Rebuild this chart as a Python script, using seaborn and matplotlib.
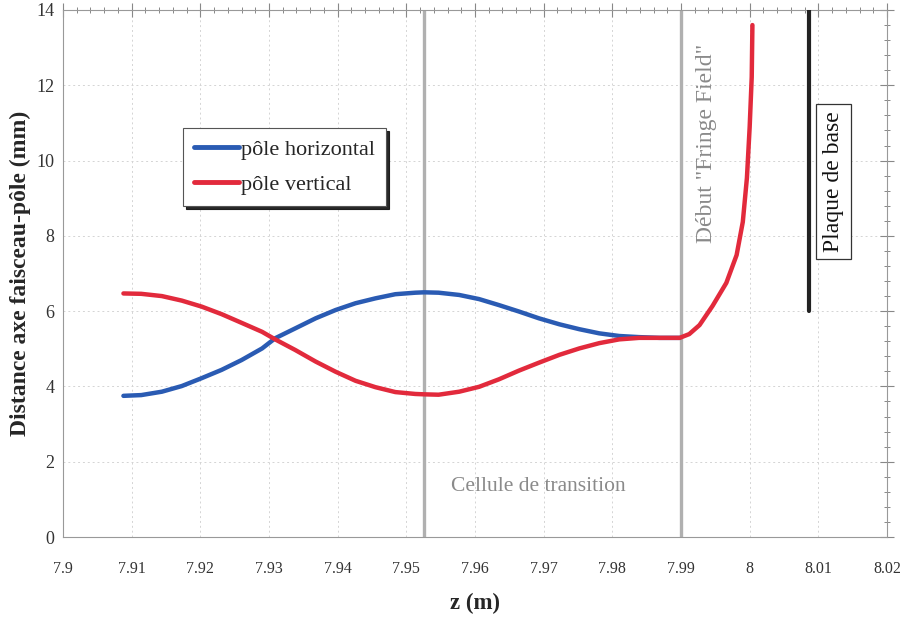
import numpy as np
import pandas as pd
import matplotlib
matplotlib.use("Agg")
import matplotlib.pyplot as plt
from matplotlib.lines import Line2D
from matplotlib.ticker import MultipleLocator
import seaborn as sns

# Beam axis to pole distance along the transition region (z in m, distance in mm)
z_horizontal = [7.9088, 7.9114, 7.9144, 7.9173, 7.9202, 7.9231, 7.9260, 7.9290, 7.9309,
                7.9338, 7.9368, 7.9397, 7.9426, 7.9455, 7.9484, 7.9513, 7.9526, 7.9547,
                7.9577, 7.9606, 7.9635, 7.9664, 7.9693, 7.9723, 7.9752, 7.9781, 7.9810,
                7.9839, 7.9869, 7.9898]
d_horizontal = [3.75, 3.77, 3.86, 4.01, 4.22, 4.44, 4.70, 5.01, 5.28,
                5.54, 5.81, 6.03, 6.21, 6.34, 6.45, 6.49, 6.50, 6.49,
                6.43, 6.32, 6.16, 5.99, 5.81, 5.65, 5.52, 5.41, 5.34,
                5.31, 5.29, 5.29]

z_vertical = [7.9088, 7.9114, 7.9144, 7.9173, 7.9202, 7.9231, 7.9260, 7.9290, 7.9309,
              7.9338, 7.9368, 7.9397, 7.9426, 7.9455, 7.9484, 7.9513, 7.9526, 7.9547,
              7.9577, 7.9606, 7.9635, 7.9664, 7.9693, 7.9723, 7.9752, 7.9781, 7.9810,
              7.9839, 7.9869, 7.9898, 7.9912, 7.9927, 7.9946, 7.9966, 7.9981, 7.9990,
              7.9996, 8.0000, 8.0003, 8.0004]
d_vertical = [6.47, 6.46, 6.40, 6.28, 6.12, 5.92, 5.69, 5.45, 5.25,
              4.97, 4.66, 4.39, 4.15, 3.98, 3.85, 3.80, 3.79, 3.78,
              3.86, 3.99, 4.19, 4.42, 4.63, 4.84, 5.01, 5.15, 5.25,
              5.29, 5.29, 5.29, 5.39, 5.63, 6.14, 6.75, 7.49, 8.37,
              9.54, 10.89, 12.22, 13.60]

series_names = ["pôle horizontal", "pôle vertical"]
series_colors = ["#2a5bb3", "#e22a3c"]

transition_cell_z = 7.9525
fringe_field_z = 7.99
base_plate_z = 8.0087
base_plate_range = [6.0, 14.0]

x_ticks = [7.9, 7.91, 7.92, 7.93, 7.94, 7.95, 7.96, 7.97, 7.98, 7.99, 8.0, 8.01, 8.02]
x_tick_labels = ["7.9", "7.91", "7.92", "7.93", "7.94", "7.95", "7.96", "7.97",
                 "7.98", "7.99", "8", "8.01", "8.02"]
y_ticks = [0, 2, 4, 6, 8, 10, 12, 14]

df = pd.concat([
    pd.DataFrame({"z": z_horizontal, "d": d_horizontal, "pole": series_names[0]}),
    pd.DataFrame({"z": z_vertical, "d": d_vertical, "pole": series_names[1]}),
], ignore_index=True)

sns.set_style("white")
plt.rcParams["font.family"] = ["Liberation Serif", "DejaVu Serif"]

fig = plt.figure(figsize=(9.05, 6.2), dpi=100)
ax = fig.add_axes([63 / 905, 1 - 537 / 620, (887 - 63) / 905, (537 - 10) / 620])

# Reference positions along the beam line
ax.axvline(transition_cell_z, color="#b0b0b0", lw=2.4, zorder=1)
ax.axvline(fringe_field_z, color="#b0b0b0", lw=2.4, zorder=1)
ax.plot([base_plate_z, base_plate_z], base_plate_range, color="#222222", lw=3,
        solid_capstyle="round", zorder=3)

sns.lineplot(data=df, x="z", y="d", hue="pole", palette=series_colors,
             sort=False, estimator=None, lw=3.2, ax=ax, legend=False, zorder=4,
             solid_joinstyle="round", solid_capstyle="round")

ax.set_xlim(7.9, 8.02)
ax.set_ylim(0, 14)
ax.set_xticks(x_ticks)
ax.set_xticklabels(x_tick_labels)
ax.set_yticks(y_ticks)
ax.xaxis.set_minor_locator(MultipleLocator(0.002))
ax.yaxis.set_minor_locator(MultipleLocator(0.4))
ax.tick_params(which="both", direction="inout", top=True, right=True,
               labeltop=False, labelright=False, color="#888888")
ax.tick_params(which="major", length=10, width=0.8)
ax.tick_params(which="minor", length=5, width=0.7)
ax.tick_params(axis="x", labelsize=11.5, pad=12)
ax.tick_params(axis="y", labelsize=13, pad=1)
for lab in ax.get_xticklabels() + ax.get_yticklabels():
    lab.set_color("#333333")
for s in ax.spines.values():
    s.set_color("#999999")
    s.set_linewidth(0.8)
ax.grid(True, which="major", ls=(0, (2, 3)), color="#d4d4d4", lw=0.7)

ax.set_xlabel("z (m)", fontsize=16.5, fontweight="bold", labelpad=12)
ax.set_ylabel("Distance axe faisceau-pôle (mm)", fontsize=17, fontweight="bold", labelpad=4)

ax.text(7.9565, 1.33, "Cellule de transition", fontsize=15.5, color="#8a8a8a",
        va="center", ha="left")
ax.text(7.9937, 10.45, "Début \"Fringe Field\"", fontsize=17, color="#8a8a8a",
        rotation=90, va="center", ha="center")
ax.text(8.0122, 9.45, "Plaque de base", fontsize=17, color="#111111",
        rotation=90, va="center", ha="center",
        bbox=dict(boxstyle="square,pad=0.3", fc="white", ec="#333333", lw=0.9))

handles = [Line2D([0], [0], color=c, lw=3.5) for c in series_colors]
leg = ax.legend(handles, series_names, loc="upper left", bbox_to_anchor=(0.146, 0.776),
                prop={"size": 16}, frameon=True, fancybox=False,
                shadow={"color": "#111111", "alpha": 0.9},
                edgecolor="#555555", framealpha=1, handlelength=2.0, handletextpad=0.1,
                borderpad=0.5, labelspacing=0.65, borderaxespad=0)
leg.get_frame().set_linewidth(0.8)

fig.savefig("out.png", dpi=100)
